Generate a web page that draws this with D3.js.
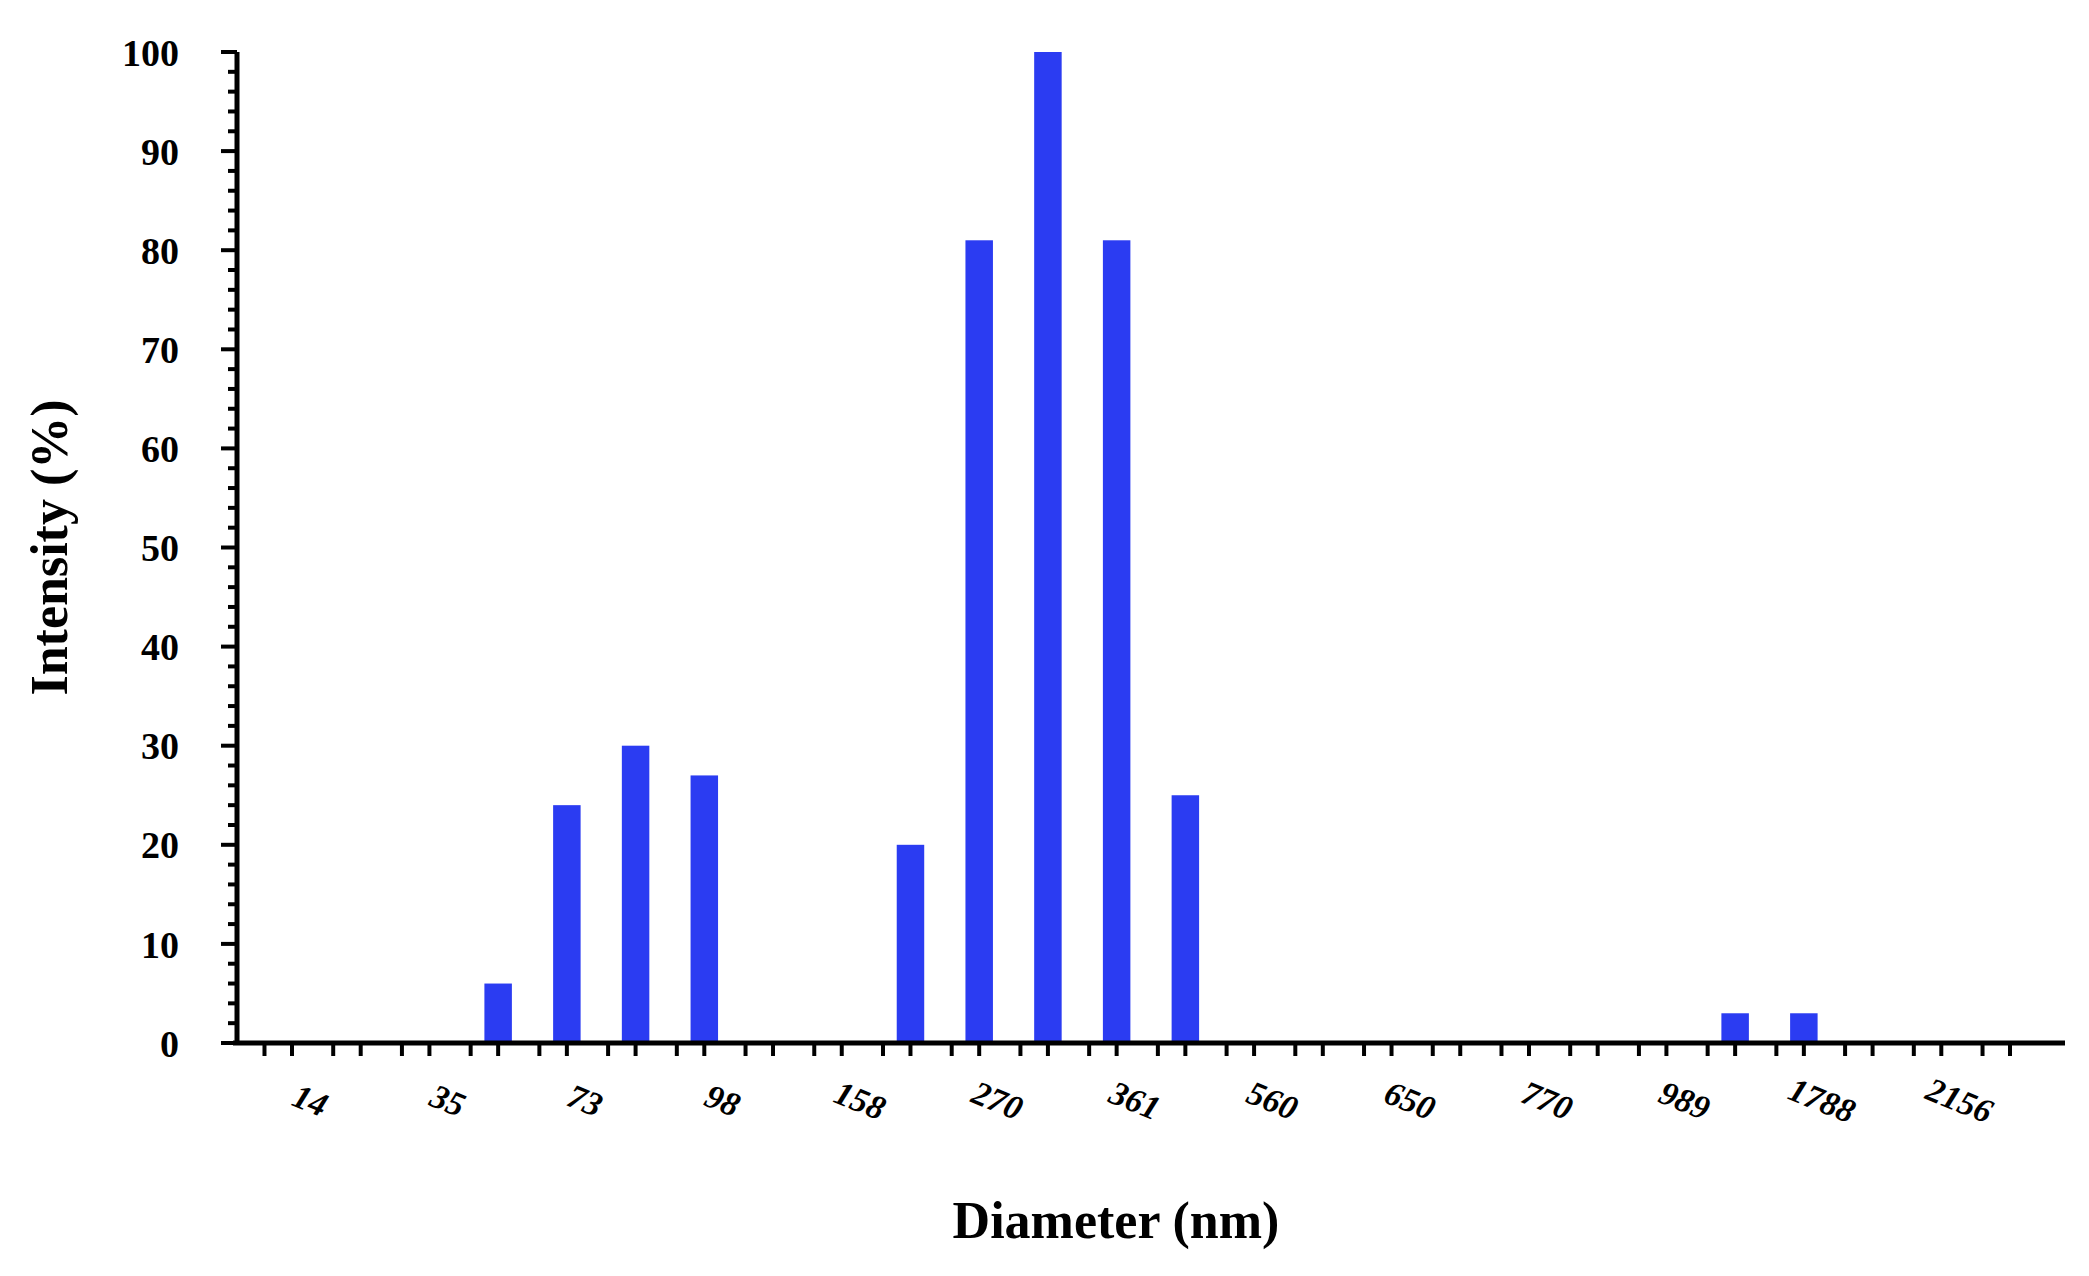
<!DOCTYPE html>
<html>
<head>
<meta charset="utf-8">
<script src="https://cdn.jsdelivr.net/npm/d3@7"></script>
<style>
  body { margin: 0; background: #fff; }
  text { font-family: "Liberation Serif", "DejaVu Serif", serif; font-weight: bold; }
</style>
</head>
<body>
<script>
// bins along the x axis, only every other one carries a label
const binLabels = ["14", null, "35", null, "73", null, "98", null, "158", null, "270", null, "361", null,
                   "560", null, "650", null, "770", null, "989", null, "1788", null, "2156", null];
const intensity = [0, 0, 0, 6, 24, 30, 27, 0, 0, 20, 81, 100, 81, 25,
                   0, 0, 0, 0, 0, 0, 0, 3, 3, 0, 0, 0];
const yTicks = [0, 10, 20, 30, 40, 50, 60, 70, 80, 90, 100];

const W = 2089, H = 1276;
const margin = { top: 52, right: 24, bottom: 233, left: 237 };
const width = W - margin.left - margin.right;
const height = H - margin.top - margin.bottom;

const svg = d3.select("body").append("svg")
    .attr("width", W).attr("height", H)
    .append("g")
    .attr("transform", "translate(" + margin.left + "," + margin.top + ")");

const x = d3.scaleBand().domain(d3.range(binLabels.length)).range([0, width]).padding(0.6);
const y = d3.scaleLinear().domain([0, 100]).range([height, 0]);

// bars
svg.selectAll(".bar").data(intensity.map((v, i) => ({ i: i, v: v })).filter(d => d.v > 0))
    .enter().append("rect")
    .attr("class", "bar")
    .attr("x", d => x(d.i))
    .attr("width", x.bandwidth())
    .attr("y", d => y(d.v))
    .attr("height", d => y(0) - y(d.v))
    .attr("fill", "#2b3cf2");

// y axis: minor ticks every 2, labels every 10
const yAxis = svg.append("g");
yAxis.append("line").attr("x1", 0).attr("x2", 0).attr("y1", y(100)).attr("y2", y(0))
    .attr("stroke", "#000").attr("stroke-width", 5);
yAxis.selectAll(".ymin").data(d3.range(0, 101, 2)).enter().append("line")
    .attr("x1", 0).attr("x2", d => d % 10 === 0 ? -16 : -9)
    .attr("y1", d => y(d)).attr("y2", d => y(d))
    .attr("stroke", "#000").attr("stroke-width", 4);
yAxis.selectAll(".ylab").data(yTicks).enter().append("text")
    .attr("x", -58).attr("y", d => y(d)).attr("dy", "0.36em")
    .attr("text-anchor", "end").attr("font-size", 38)
    .text(d => d);

// x axis
const xAxis = svg.append("g").attr("transform", "translate(0," + height + ")");
xAxis.append("line").attr("x1", -4).attr("x2", width).attr("stroke", "#000").attr("stroke-width", 5);
xAxis.selectAll(".xt").data(binLabels.map((l, i) => i)).enter().append("line")
    .attr("x1", i => x(i) + x.bandwidth() / 2).attr("x2", i => x(i) + x.bandwidth() / 2)
    .attr("y1", 0).attr("y2", 13)
    .attr("stroke", "#000").attr("stroke-width", 4);
xAxis.selectAll(".xt2").data(binLabels.map((l, i) => i)).enter().append("line")
    .attr("x1", i => x(i) - x.step() * 0.2).attr("x2", i => x(i) - x.step() * 0.2)
    .attr("y1", 0).attr("y2", 13)
    .attr("stroke", "#000").attr("stroke-width", 4);
xAxis.selectAll(".xlab").data(binLabels.map((l, i) => ({ l: l, i: i })).filter(d => d.l))
    .enter().append("text")
    .attr("transform", d => "translate(" + (x(d.i) + x.bandwidth() / 2 + 14) + ",68) rotate(22)")
    .attr("text-anchor", "middle").attr("font-size", 34).attr("font-style", "italic")
    .text(d => d.l);

// axis titles
svg.append("text")
    .attr("transform", "translate(-170," + (height / 2) + ") rotate(-90)")
    .attr("text-anchor", "middle").attr("font-size", 52)
    .text("Intensity (%)");
svg.append("text")
    .attr("x", 1116 - margin.left).attr("y", height + 195)
    .attr("text-anchor", "middle").attr("font-size", 52)
    .text("Diameter (nm)");
</script>
</body>
</html>
